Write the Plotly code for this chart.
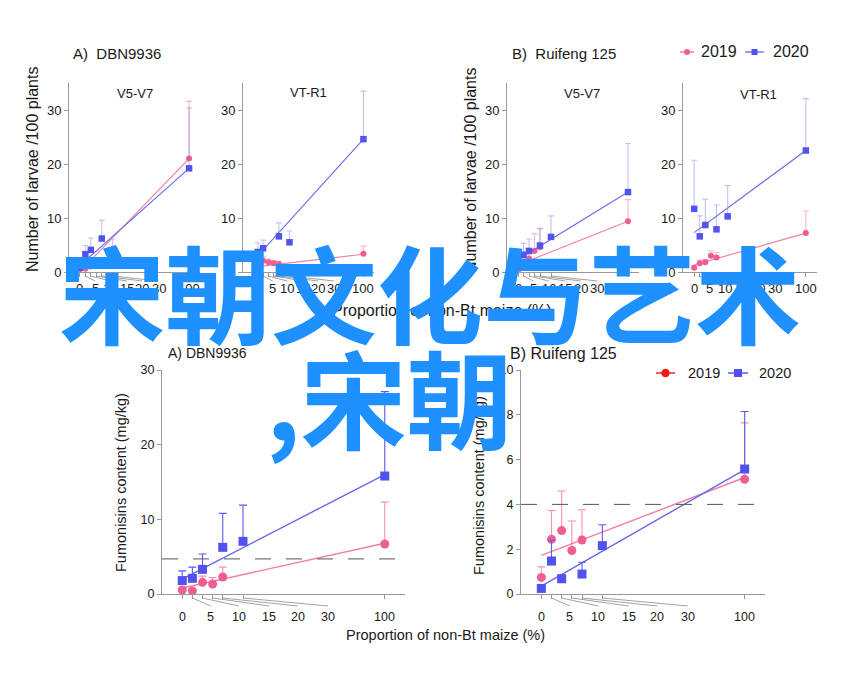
import plotly.graph_objects as go

W, H = 844, 675
FONT = "Liberation Sans, Arial, sans-serif"
CJK = "Noto Sans CJK SC"

# ---------------- data ----------------
x_ticks = [0, 5, 10, 15, 20, 30, 100]
x_tick_text = ["0", "5", "10", "15", "20", "30", "100"]
x_label_at = [0, 14, 28, 43, 57, 72, 100]
x_2019 = [0, 5, 10, 15, 20, 100]
x_2020 = [0, 5, 10, 20, 30, 100]
fit_x = [0, 100]
series_names = ["2019", "2020"]

larvae_y_ticks = [0, 10, 20, 30]
fum_a_y_ticks = [0, 10, 20, 30]
fum_b_y_ticks = [0, 2, 4, 6, 8, 10]

# A) DBN9936, V5-V7 (number of larvae /100 plants)
a_v5_2019 = [0.5, 0.6, 1.0, 1.2, 1.5, 21.0]
a_v5_2019_top = [1.0, 1.2, 1.8, 2.0, 2.5, 31.6]
a_v5_2020 = [0.8, 3.3, 4.1, 6.2, 3.9, 19.2]
a_v5_2020_top = [1.5, 4.9, 6.3, 9.6, 6.1, 30.4]
a_v5_fit_2019 = [0.1, 21.0]
a_v5_fit_2020 = [1.2, 19.2]

# A) DBN9936, VT-R1
a_vt_2019 = [0.9, 2.1, 1.8, 1.6, 1.5, 3.4]
a_vt_2019_top = [1.3, 2.8, 2.4, 2.1, 2.0, 4.8]
a_vt_2020 = [3.7, 4.4, None, 6.6, 5.5, 24.6]
a_vt_2020_top = [5.4, 5.9, None, 9.1, 7.6, 33.5]
a_vt_fit_2019 = [1.0, 3.3]
a_vt_fit_2020 = [3.0, 24.6]

# B) Ruifeng 125, V5-V7
b_v5_2019 = [0.3, 1.5, 2.5, 3.9, 4.6, 9.4]
b_v5_2019_top = [1.0, 2.5, 3.5, 7.1, 8.1, 13.4]
b_v5_2020 = [2.5, 3.2, 3.9, 4.9, 6.5, 14.8]
b_v5_2020_top = [4.1, 5.3, 6.1, 8.0, 10.4, 23.8]
b_v5_fit_2019 = [1.3, 9.4]
b_v5_fit_2020 = [2.3, 14.8]

# B) Ruifeng 125, VT-R1
b_vt_2019 = [0.8, 1.6, 1.8, 3.0, 2.7, 7.2]
b_vt_2019_top = [1.2, 2.2, 2.3, 3.9, 3.6, 11.3]
b_vt_2020 = [11.7, 6.6, 8.7, 7.9, 10.3, 22.5]
b_vt_2020_top = [20.7, 10.4, 13.5, 12.4, 16.0, 32.1]
b_vt_fit_2019 = [1.3, 7.2]
b_vt_fit_2020 = [7.3, 22.5]

# Fumonisins content (mg/kg), A) DBN9936
fa_2019 = [0.54, 0.4, 1.56, 1.34, 2.27, 6.7]
fa_2019_top = [0.9, 0.6, 2.4, 2.2, 3.6, 12.3]
fa_2020 = [1.8, 2.1, 3.3, 6.25, 7.05, 15.8]
fa_2020_top = [3.1, 3.6, 5.35, 10.8, 11.9, 27.1]
fa_fit_2019 = [0.8, 6.8]
fa_fit_2020 = [2.0, 16.0]
fa_limit = 4.7

# Fumonisins content (mg/kg), B) Ruifeng 125
fb_2019 = [0.74, 2.44, 2.83, 1.94, 2.41, 5.12]
fb_2019_top = [1.21, 3.73, 4.6, 3.26, 3.76, 7.64]
fb_2020 = [0.25, 1.47, 0.68, 0.89, 2.16, 5.58]
fb_2020_top = [0.35, 2.4, 0.85, 1.42, 3.09, 8.15]
fb_fit_2019 = [1.72, 5.2]
fb_fit_2020 = [0.35, 5.55]
fb_limit = 4.0

overlay_line1 = "宋朝文化与艺术"
overlay_line2 = ",宋朝"

# ---------------- styles ----------------
PINK = "#EF5E92"
BLUE = "#5252EE"
PINK_LINE = "#F27DA3"
BLUE_LINE = "#6767EC"
AXIS = "#999999"
TXT = "#1a1a1a"

small = dict(msize_c=6, msize_s=6.5, lw=1.1, err19="rgba(240,120,160,0.55)", err20="rgba(120,120,225,0.45)",
             errw=3, tickfont=13, lab_off=16, lead=(4, 9))
big = dict(msize_c=9, msize_s=9, lw=1.4, err19="rgba(240,110,150,0.75)", err20="#5B5BF0",
           errw=4, tickfont=12.5, lab_off=23, lead=(4, 12))

panels = [
    dict(px=(69, 200, 83, 272), xr=[-10, 110], yr=[0, 35], yt=larvae_y_ticks, st=small,
         d19=(a_v5_2019, a_v5_2019_top, a_v5_fit_2019), d20=(a_v5_2020, a_v5_2020_top, a_v5_fit_2020)),
    dict(px=(243, 374, 83, 272), xr=[-14, 110], yr=[0, 35], yt=larvae_y_ticks, st=small,
         d19=(a_vt_2019, a_vt_2019_top, a_vt_fit_2019), d20=(a_vt_2020, a_vt_2020_top, a_vt_fit_2020)),
    dict(px=(507, 639, 83, 272), xr=[-10, 110], yr=[0, 35], yt=larvae_y_ticks, st=small,
         d19=(b_v5_2019, b_v5_2019_top, b_v5_fit_2019), d20=(b_v5_2020, b_v5_2020_top, b_v5_fit_2020)),
    dict(px=(683, 817, 83, 272), xr=[-10, 110], yr=[0, 35], yt=larvae_y_ticks, st=small,
         d19=(b_vt_2019, b_vt_2019_top, b_vt_fit_2019), d20=(b_vt_2020, b_vt_2020_top, b_vt_fit_2020)),
    dict(px=(162, 405, 370, 594), xr=[-10, 110], yr=[0, 30], yt=fum_a_y_ticks, st=big,
         d19=(fa_2019, fa_2019_top, fa_fit_2019), d20=(fa_2020, fa_2020_top, fa_fit_2020), limit=fa_limit),
    dict(px=(521, 765, 370, 594), xr=[-10, 110], yr=[0, 10], yt=fum_b_y_ticks, st=big,
         d19=(fb_2019, fb_2019_top, fb_fit_2019), d20=(fb_2020, fb_2020_top, fb_fit_2020), limit=fb_limit),
]


def err_up(vals, tops):
    return [(t - v) if (v is not None and t is not None) else 0 for v, t in zip(vals, tops)]


fig = go.Figure()
layout = dict(width=W, height=H, margin=dict(l=0, r=0, t=0, b=0, autoexpand=False),
              paper_bgcolor="white", plot_bgcolor="white", font=dict(family=FONT, color=TXT),
              showlegend=False)
annotations = []
shapes = []

for k, p in enumerate(panels, start=1):
    sx = "" if k == 1 else str(k)
    xn, yn = "x" + sx, "y" + sx
    l, r, t, b = p["px"]
    st = p["st"]
    layout["xaxis" + sx] = dict(domain=[l / W, r / W], range=p["xr"], anchor=yn, showline=True,
                                linecolor=AXIS, linewidth=1, ticks="outside", ticklen=4, tickcolor=AXIS,
                                tickvals=x_ticks, showticklabels=False, showgrid=False, zeroline=False,
                                fixedrange=True)
    layout["yaxis" + sx] = dict(domain=[1 - b / H, 1 - t / H], range=p["yr"], anchor=xn, showline=True,
                                linecolor=AXIS, linewidth=1, ticks="outside", ticklen=4, tickcolor=AXIS,
                                tickvals=p["yt"], tickfont=dict(size=st["tickfont"], color=TXT),
                                showgrid=False, zeroline=False, fixedrange=True)
    hpx = b - t
    for (xs, data, col, lcol, ecol, sym, ms) in [
        (x_2019, p["d19"], PINK, PINK_LINE, st["err19"], "circle", st["msize_c"]),
        (x_2020, p["d20"], BLUE, BLUE_LINE, st["err20"], "square", st["msize_s"]),
    ]:
        vals, tops, fit = data
        fig.add_trace(go.Scatter(x=fit_x, y=fit, mode="lines", line=dict(color=lcol, width=st["lw"]),
                                 xaxis=xn, yaxis=yn, showlegend=False, hoverinfo="skip"))
        fig.add_trace(go.Scatter(x=xs, y=vals, mode="markers",
                                 marker=dict(color=col, size=ms, symbol=sym, line=dict(width=0)),
                                 error_y=dict(type="data", symmetric=False, array=err_up(vals, tops),
                                              arrayminus=[0] * len(vals), color=ecol, thickness=1.1,
                                              width=st["errw"]),
                                 xaxis=xn, yaxis=yn, showlegend=False))
    # tick labels spread out with leader lines
    for v, txt, lp in zip(x_ticks, x_tick_text, x_label_at):
        annotations.append(dict(xref=xn, yref=yn + " domain", x=lp, y=0, yshift=-st["lab_off"],
                                text=txt, showarrow=False, xanchor="center", yanchor="middle",
                                font=dict(size=st["tickfont"], color=TXT, family=FONT)))
        if v != lp:
            a0, a1 = st["lead"]
            shapes.append(dict(type="line", xref=xn, yref=yn + " domain", x0=v, x1=lp,
                               y0=-a0 / hpx, y1=-a1 / hpx, line=dict(color="#8a8a8a", width=0.8)))
    if "limit" in p:
        shapes.append(dict(type="line", xref=xn + " domain", yref=yn, x0=0, x1=1, y0=p["limit"],
                           y1=p["limit"], line=dict(color="#555555", width=1, dash="16px,15px")))


def text(x, y, s, size, anchor="center", angle=0, family=FONT, color=TXT, weight="normal"):
    annotations.append(dict(xref="paper", yref="paper", x=x / W, y=1 - y / H, text=s, showarrow=False,
                            xanchor=anchor, yanchor="middle", textangle=angle,
                            font=dict(size=size, family=family, color=color, weight=weight)))


def legend_item(x0, x1, y, col, sym, r, lw, label, tx, size):
    shapes.append(dict(type="line", xref="paper", yref="paper", x0=x0 / W, x1=x1 / W,
                       y0=1 - y / H, y1=1 - y / H, line=dict(color=col, width=lw)))
    cx = (x0 + x1) / 2
    shapes.append(dict(type="circle" if sym == "circle" else "rect", xref="paper", yref="paper",
                       x0=(cx - r) / W, x1=(cx + r) / W, y0=1 - (y + r) / H, y1=1 - (y - r) / H,
                       fillcolor=col, line=dict(width=0)))
    text(tx, y, label, size, "left")


# legends (top and bottom)
legend_item(680, 694, 52, PINK, "circle", 3, 1.2, series_names[0], 699, 16)
legend_item(745, 764, 52, BLUE, "square", 3, 1.2, series_names[1], 771, 16)
legend_item(656, 675, 373, "#F01818", "circle", 4.2, 1.4, series_names[0], 686, 14.5)
legend_item(728, 748, 373, "#5050F0", "square", 4, 1.4, series_names[1], 757, 14.5)

text(71, 53, "A)  DBN9936", 15, "left")
text(510, 53, "B)  Ruifeng 125", 15, "left")
text(135, 93, "V5-V7", 13)
text(308, 92, "VT-R1", 13)
text(582, 93, "V5-V7", 13)
text(758, 95, "VT-R1", 13)
text(33, 170, "Number of larvae /100 plants", 16, angle=-90)
text(470, 171, "Number of larvae /100 plants", 16, angle=-90)
text(442, 311, "Proportion of non-Bt maize (%)", 16)
text(166, 353, "A) DBN9936", 14, "left")
text(508, 353, "B) Ruifeng 125", 16, "left")
text(121, 483, "Fumonisins content (mg/kg)", 14.5, angle=-90)
text(479, 485, "Fumonisins content (mg/kg)", 14.5, angle=-90)
text(445, 635, "Proportion of non-Bt maize (%)", 14.5)

# overlay text
text(430, 290, overlay_line1, 106, "center", family=CJK, color="#1E90FF", weight="bold")
text(264, 395, overlay_line2, 106, "left", family=CJK, color="#1E90FF", weight="bold")

layout["annotations"] = annotations
layout["shapes"] = shapes
fig.update_layout(**layout)
fig.write_html("out.html")
